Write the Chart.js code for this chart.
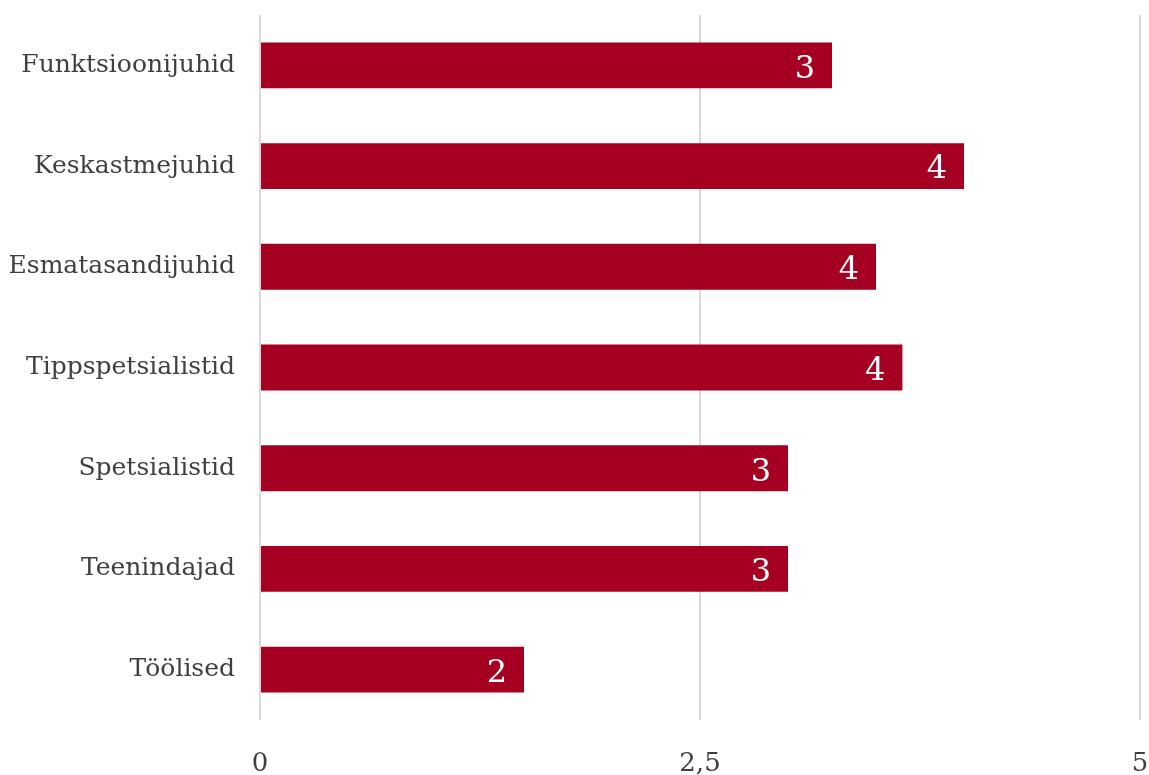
<!DOCTYPE html>
<html>
<head>
<meta charset="utf-8">
<script src="https://cdn.jsdelivr.net/npm/chart.js@4/dist/chart.umd.min.js"></script>
<style>
  html, body { margin:0; padding:0; background:#fff; overflow:hidden; }
  #wrap { width:1149px; height:775px; position:relative; }
</style>
</head>
<body>
<div id="wrap"><canvas id="chart"></canvas></div>
<script>
// andmed pildilt loetud
const categories = ['Funktsioonijuhid','Keskastmejuhid','Esmatasandijuhid','Tippspetsialistid','Spetsialistid','Teenindajad','Töölised'];
const values = [3.25, 4.0, 3.5, 3.65, 3.0, 3.0, 1.5];
const valueLabels = ['3','4','4','4','3','3','2'];
const xTicks = [0, 2.5, 5];

const FONT = "'DejaVu Serif', Georgia, serif";
const TEXT = '#404040';

// väärtused ribade sisse
const barLabels = {
  id: 'barLabels',
  afterDatasetsDraw(chart){
    const ctx = chart.ctx;
    const meta = chart.getDatasetMeta(0);
    ctx.save();
    ctx.fillStyle = '#fff';
    ctx.font = '32px ' + FONT;
    ctx.textAlign = 'right';
    ctx.textBaseline = 'middle';
    meta.data.forEach((bar, i)=>{
      ctx.fillText(valueLabels[i], bar.x - 17, bar.y + 4);
    });
    ctx.restore();
  }
};

function noPad(scale){
  scale.paddingTop = 0; scale.paddingBottom = 0;
  scale.paddingLeft = 0; scale.paddingRight = 0;
}

new Chart(document.getElementById('chart'), {
  type: 'bar',
  data: {
    labels: categories,
    datasets: [{
      data: values,
      backgroundColor: '#A50021',
      categoryPercentage: 1,
      barPercentage: 0.455
    }]
  },
  options: {
    indexAxis: 'y',
    responsive: true,
    maintainAspectRatio: false,
    animation: false,
    layout: { autoPadding: false, padding: { top: 15, right: 9, left: 0, bottom: 0 } },
    plugins: { legend: { display: false }, tooltip: { enabled: false } },
    scales: {
      x: {
        min: 0, max: 5,
        afterBuildTicks(scale){ scale.ticks = xTicks.map(v=>({ value: v })); },
        afterFit(scale){ scale.height = 55; noPad(scale); },
        grid: { color: '#d9d9d9', lineWidth: 2, drawTicks: false },
        border: { display: false },
        ticks: {
          padding: 29,
          maxRotation: 0,
          color: TEXT,
          font: { family: FONT, size: 26 },
          callback: v => String(v).replace('.', ',')
        }
      },
      y: {
        afterFit(scale){ scale.width = 260; noPad(scale); },
        grid: { display: false, drawTicks: false },
        border: { display: false },
        ticks: {
          padding: 25,
          color: TEXT,
          font: { family: FONT, size: 25 }
        }
      }
    }
  },
  plugins: [barLabels]
});
</script>
</body>
</html>
